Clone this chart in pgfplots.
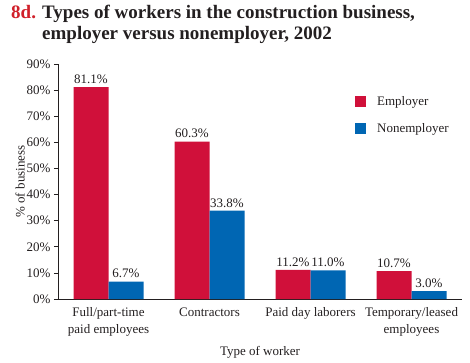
\documentclass[border=0pt]{standalone}
\usepackage{pgfplots}
\pgfplotsset{compat=1.18}
\usepackage{fontspec}
\setmainfont{Liberation Serif}
\definecolor{empred}{HTML}{D0103A}
\definecolor{nonblue}{HTML}{0066B3}
\definecolor{titlered}{HTML}{D0202A}
\definecolor{txt}{HTML}{231F20}
\begin{document}
\begin{tikzpicture}[x=1pt,y=1pt]
\useasboundingbox (0,0) rectangle (470,362);
\node[anchor=base west,font=\bfseries\fontsize{19}{22}\selectfont,text=titlered,inner sep=0pt] at (11,343) {8d.};
\node[anchor=base west,font=\bfseries\fontsize{19}{22}\selectfont,text=txt,inner sep=0pt] at (42,343) {Types of workers in the construction business,};
\node[anchor=base west,font=\bfseries\fontsize{19}{22}\selectfont,text=txt,inner sep=0pt] at (42,322) {employer versus nonemployer, 2002};
\begin{axis}[
  at={(58pt,63pt)}, anchor=south west,
  scale only axis, width=404pt, height=235pt,
  xmin=-0.5, xmax=3.5, ymin=0, ymax=90,
  axis lines*=left,
  axis line style={txt, line width=0.6pt},
  ytick={0,10,...,90},
  yticklabel={\pgfmathprintnumber{\tick}\%},
  /pgf/number format/assume math mode=true,
  ytick style={txt, line width=0.6pt},
  tick align=outside,
  major tick length=4pt,
  xtick={0,1,2,3},
  xticklabels={{Full/part-time\\paid employees},{Contractors},{Paid day laborers},{Temporary/leased\\employees}},
  xticklabel style={align=center, text=txt, font=\fontsize{13}{17}\selectfont, yshift=-1pt},
  x tick style={draw=none},
  extra x ticks={0.5,1.5,2.5},
  extra x tick labels={},
  extra x tick style={tick style={draw=txt, line width=0.6pt}, major tick length=5pt},
  yticklabel style={text=txt, font=\fontsize{13}{15}\selectfont},
  ylabel={\% of business},
  xlabel={Type of worker},
  label style={text=txt, font=\fontsize{13}{15}\selectfont},
  ylabel style={yshift=-5pt},
  xlabel style={yshift=6pt},
  ybar, bar width=35pt,
  nodes near coords={\pgfmathprintnumber[fixed,fixed zerofill,precision=1]{\pgfplotspointmeta}\%},
  nodes near coords style={text=txt, font=\fontsize{13}{15}\selectfont},
  legend style={at={(rel axis cs:0.735,0.87)}, anchor=north west, draw=none, fill=none, font=\fontsize{13}{15}\selectfont, text=txt, row sep=12pt, inner sep=0pt,
    /tikz/every odd column/.append style={column sep=9pt}},
  legend cell align=left,
  legend image code/.code={\fill[#1] (0pt,-5pt) rectangle (11pt,6pt);},
]
\addplot[fill=empred, draw=none, bar shift=-17.5pt] coordinates {(0,81.1) (1,60.3) (2,11.2) (3,10.7)};
\addplot[fill=nonblue, draw=none, bar shift=17.5pt] coordinates {(0,6.7) (1,33.8) (2,11.0) (3,3.0)};
\legend{Employer, Nonemployer}
\end{axis}
\end{tikzpicture}
\end{document}
